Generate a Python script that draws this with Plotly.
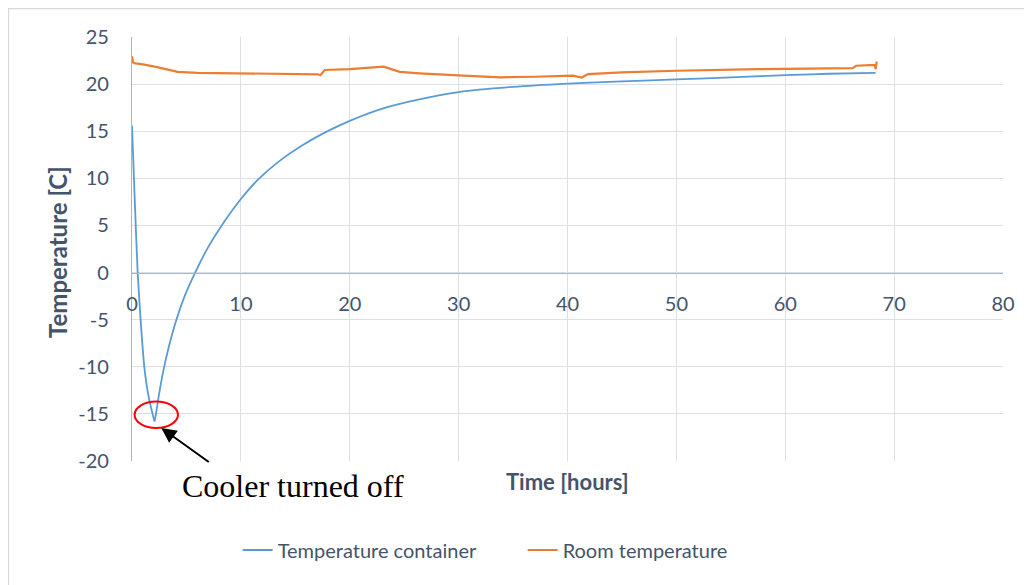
import plotly.graph_objects as go

# ---- data ----
container_time = [0, 0.24, 0.52, 0.79, 1.13, 1.5, 1.89, 2.07, 2.2, 2.5, 2.9, 3.4, 4.0, 4.8, 5.8,
                  7.0, 8.3, 10, 11.6, 13.5, 15.5, 17.7, 20, 23, 26.5, 30, 35, 40, 45, 50, 55,
                  60, 64, 68.3]
container_temp = [15.6, 8.1, 0, -5, -10, -13, -15, -15.8, -15, -12.8, -10.3, -7.8, -5.3, -2.6, 0,
                  2.7, 5.1, 7.8, 9.9, 11.8, 13.4, 14.85, 16.1, 17.4, 18.4, 19.15, 19.7, 20.05,
                  20.3, 20.5, 20.72, 20.95, 21.1, 21.2]

room_time = [0, 0.1, 0.3, 1, 2.1, 3, 4.2, 6, 10, 13.6, 17.1, 17.3, 17.7, 20, 22.8, 23.1, 24.6,
             26.4, 30, 33.8, 37, 39.6, 40.5, 41.3, 41.9, 45, 50, 57.5, 62, 66.2, 66.5, 67.5,
             68.2, 68.3, 68.4]
room_temp = [22.97, 22.3, 22.2, 22.1, 21.85, 21.6, 21.3, 21.2, 21.15, 21.15, 21.04, 20.95, 21.5,
             21.6, 21.8, 21.85, 21.3, 21.15, 20.93, 20.72, 20.78, 20.85, 20.9, 20.7, 21.07, 21.25,
             21.42, 21.58, 21.65, 21.7, 21.95, 22.0, 22.05, 21.6, 22.4]

x_ticks = [0, 10, 20, 30, 40, 50, 60, 70, 80]
x_labels = ["0", "10", "20", "30", "40", "50", "60", "70", "80"]
y_ticks = [25, 20, 15, 10, 5, 0, -5, -10, -15, -20]
y_labels = ["25", "20", "15", "10", "5", "0", "-5", "-10", "-15", "-20"]

series_names = ["Temperature container", "Room temperature"]
x_title = "Time [hours]"
y_title = "Temperature [C]"
note_text = "Cooler turned off"

TXT = "#44546A"
GRID = "#DCE0E6"
AXIS = "#A9B4C4"
FONT = "Lato"
BLUE = "#5B9BD5"
ORANGE = "#ED7D31"

# page offset of the figure (default body margin of the html page)
OFF = 8
# plot-area geometry in page pixels: x 132..1003, y 37..461
W, H = 1032 - OFF, 585 - OFF
L, T = 132 - OFF, 37 - OFF
R, B = W - (1003 - OFF), H - (461 - OFF)
PW, PH = W - L - R, H - T - B


def px(xp):
    return (xp - OFF - L) / PW


def py(yp):
    return (H - B - (yp - OFF)) / PH


# split the container series at its minimum: sharp cooling drop, smooth warm-up
k = container_temp.index(min(container_temp))

fig = go.Figure()
fig.add_trace(go.Scatter(x=container_time[:k + 1], y=container_temp[:k + 1], mode="lines",
                         name=series_names[0], legendgroup="c", showlegend=False,
                         line=dict(color=BLUE, width=1.8, shape="spline", smoothing=0.5)))
fig.add_trace(go.Scatter(x=container_time[k:], y=container_temp[k:], mode="lines",
                         name=series_names[0], legendgroup="c",
                         line=dict(color=BLUE, width=1.8, shape="spline", smoothing=1.0)))
fig.add_trace(go.Scatter(x=room_time, y=room_temp, mode="lines", name=series_names[1],
                         line=dict(color=ORANGE, width=2.2)))

fig.update_layout(
    width=W, height=H,
    margin=dict(l=L, r=R, t=T, b=B, autoexpand=False),
    paper_bgcolor="white", plot_bgcolor="white",
    font=dict(family=FONT, size=20, color=TXT),
    showlegend=True,
    legend=dict(orientation="h", x=px(242) - 0.005, xanchor="left", y=py(550), yanchor="middle",
                entrywidth=240, entrywidthmode="pixels",
                font=dict(family=FONT, size=20, color=TXT), bgcolor="rgba(0,0,0,0)"),
    xaxis=dict(range=[0, 80], tickvals=x_ticks, ticktext=x_labels, showgrid=True,
               gridcolor=GRID, gridwidth=1.3, zeroline=False, showline=True, linecolor=AXIS,
               linewidth=1.3, anchor="free", position=20 / 45, ticks="", automargin=False,
               ticklabelstandoff=13, tickfont=dict(family=FONT, size=20, color=TXT)),
    yaxis=dict(range=[-20, 25], tickvals=y_ticks, ticktext=y_labels, showgrid=True,
               gridcolor=GRID, gridwidth=1.3, zeroline=False, showline=True, linecolor=AXIS,
               linewidth=1.3, ticks="", ticklabelstandoff=18, automargin=False,
               tickfont=dict(family=FONT, size=20, color=TXT)),
)

# axis titles
fig.add_annotation(xref="paper", yref="paper", x=px(567), y=py(481), text="<b>" + x_title + "</b>",
                   showarrow=False, xanchor="center", yanchor="middle",
                   font=dict(family=FONT, size=22, color=TXT))
fig.add_annotation(xref="paper", yref="paper", x=px(57), y=py(252), text="<b>" + y_title + "</b>",
                   showarrow=False, xanchor="center", yanchor="middle", textangle=-90,
                   font=dict(family=FONT, size=24, color=TXT))

# red ellipse around the minimum
fig.add_shape(type="circle", xref="x", yref="y", x0=0.24, x1=4.22, y0=-16.5, y1=-13.68,
              line=dict(color="#FF0000", width=2))

# arrow
fig.add_annotation(xref="x", yref="y", x=2.69, y=-16.5, ax=49, ay=35,
                   text="", showarrow=True, arrowhead=2, arrowsize=1.5, arrowwidth=2,
                   arrowcolor="black")

# note text
fig.add_annotation(xref="paper", yref="paper", x=px(293), y=py(486), text=note_text,
                   showarrow=False, xanchor="center", yanchor="middle",
                   font=dict(family="Liberation Serif", size=32, color="black"))

# chart-area border
fig.add_shape(type="rect", xref="paper", yref="paper", x0=px(8.6), x1=px(1045), y0=py(600),
              y1=py(8.6), line=dict(color="#D9D9D9", width=1.2), layer="below")

fig.write_html("out.html")
